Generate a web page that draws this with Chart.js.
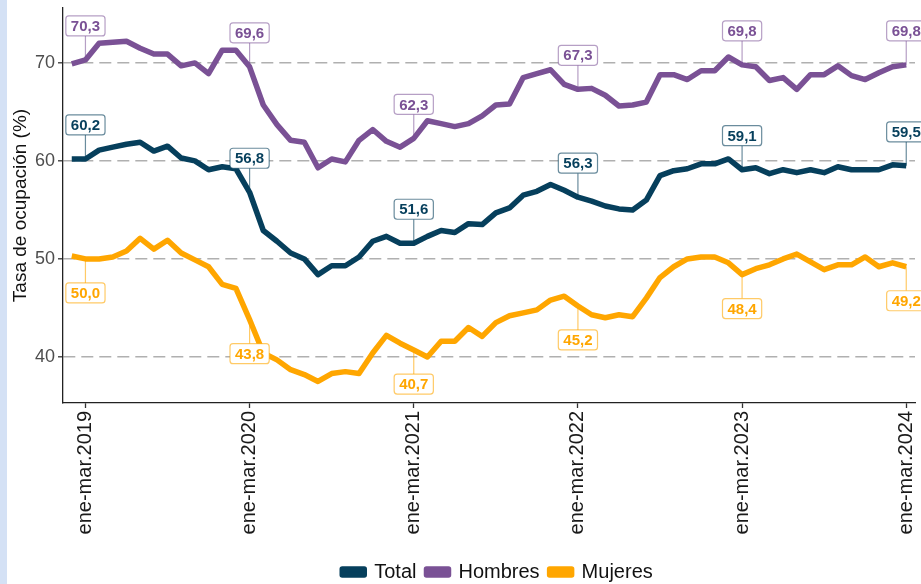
<!DOCTYPE html>
<html lang="es">
<head>
<meta charset="UTF-8">
<title>Tasa de ocupación</title>
<script src="https://cdn.jsdelivr.net/npm/chart.js"></script>
<style>
  html, body { margin: 0; padding: 0; }
  body {
    width: 921px; height: 584px; overflow: hidden;
    background: linear-gradient(to right, #d4e1f5 0, #d4e1f5 7px, #ffffff 7px);
    font-family: "Liberation Sans", Arial, sans-serif;
  }
  #wrap { position: relative; width: 921px; height: 584px; }
</style>
</head>
<body>
<div id="wrap"><canvas id="chart"></canvas></div>
<script>
  // one point per rolling quarter, index 1 = ene-mar.2019
  const tickPos = [1, 13, 25, 37, 49, 61];
  const tickLabels = ['ene-mar.2019', 'ene-mar.2020', 'ene-mar.2021', 'ene-mar.2022', 'ene-mar.2023', 'ene-mar.2024'];

  const total = [
    60.2, 60.2, 61.1, 61.4, 61.7, 61.9, 61.0, 61.5, 60.3, 60.0, 59.1, 59.4, 59.2,
    56.8, 52.9, 51.8, 50.6, 50.0, 48.4, 49.3, 49.3, 50.2, 51.8, 52.3, 51.6,
    51.6, 52.3, 52.9, 52.7, 53.6, 53.5, 54.7, 55.2, 56.5, 56.9, 57.6, 57.0,
    56.3, 55.9, 55.4, 55.1, 55.0, 56.0, 58.5, 59.0, 59.2, 59.7, 59.7, 60.2,
    59.1, 59.3, 58.7, 59.1, 58.8, 59.1, 58.8, 59.4, 59.1, 59.1, 59.1, 59.6,
    59.5
  ];
  const hombres = [
    69.9, 70.3, 72.0, 72.1, 72.2, 71.5, 70.9, 70.9, 69.7, 70.0, 68.9, 71.3, 71.3,
    69.6, 65.7, 63.7, 62.1, 61.9, 59.3, 60.2, 59.9, 62.1, 63.2, 62.0, 61.4,
    62.3, 64.1, 63.8, 63.5, 63.8, 64.6, 65.7, 65.8, 68.5, 68.9, 69.3, 67.8,
    67.3, 67.4, 66.7, 65.6, 65.7, 66.0, 68.8, 68.8, 68.3, 69.2, 69.2, 70.6,
    69.8, 69.6, 68.2, 68.5, 67.3, 68.8, 68.8, 69.7, 68.7, 68.3, 69.0, 69.6,
    69.8
  ];
  const mujeres = [
    50.3, 50.0, 50.0, 50.2, 50.8, 52.1, 51.0, 51.9, 50.6, 49.9, 49.2, 47.4, 47.0,
    43.8, 40.4, 39.7, 38.7, 38.2, 37.5, 38.3, 38.5, 38.3, 40.4, 42.2, 41.4,
    40.7, 40.0, 41.6, 41.6, 43.0, 42.1, 43.5, 44.2, 44.5, 44.8, 45.8, 46.2,
    45.2, 44.3, 44.0, 44.3, 44.1, 46.0, 48.1, 49.2, 50.0, 50.2, 50.2, 49.6,
    48.4, 49.0, 49.4, 50.0, 50.5, 49.7, 48.9, 49.4, 49.4, 50.2, 49.2, 49.6,
    49.2
  ];

  const toPoints = arr => arr.map((v, i) => ({ x: i, y: v }));
  const FONT = '"Liberation Sans", Arial, sans-serif';

  // boxed value labels at each ene-mar point, with a small stem
  const valueLabels = {
    id: 'valueLabels',
    afterDatasetsDraw(chart) {
      const ctx = chart.ctx;
      ctx.save();
      ctx.font = 'bold 15px ' + FONT;
      ctx.textAlign = 'center';
      ctx.textBaseline = 'middle';
      chart.data.datasets.forEach((ds, d) => {
        const meta = chart.getDatasetMeta(d);
        tickPos.forEach(i => {
          const pt = meta.data[i];
          const txt = ds.data[i].y.toFixed(1).replace('.', ',');
          const w = ctx.measureText(txt).width + 10, h = 20;
          const cy = pt.y + ds.labelDir * 34;
          const edge = cy - ds.labelDir * h / 2;
          ctx.strokeStyle = ds.softColor;
          ctx.lineWidth = 1.2;
          ctx.beginPath();
          ctx.moveTo(pt.x, pt.y);
          ctx.lineTo(pt.x, edge);
          ctx.stroke();
          ctx.fillStyle = '#ffffff';
          ctx.beginPath();
          ctx.roundRect(pt.x - w / 2, cy - h / 2, w, h, 3);
          ctx.fill();
          ctx.stroke();
          ctx.fillStyle = ds.borderColor;
          ctx.fillText(txt, pt.x, cy + 1);
        });
      });
      ctx.restore();
    }
  };

  // the legend in the original sits a bit lower and right of centre
  const nudgeLegend = {
    id: 'nudgeLegend',
    afterLayout(chart) {
      const lg = chart.legend;
      lg.left += 40; lg.right += 40;
      lg.top += 8; lg.bottom += 8;
    }
  };

  new Chart(document.getElementById('chart'), {
    type: 'line',
    data: {
      datasets: [
        { label: 'Total', data: toPoints(total), borderColor: '#063f5c', backgroundColor: '#063f5c',
          softColor: 'rgba(6,63,92,0.6)', labelDir: -1 },
        { label: 'Hombres', data: toPoints(hombres), borderColor: '#7a5195', backgroundColor: '#7a5195',
          softColor: 'rgba(122,81,149,0.55)', labelDir: -1 },
        { label: 'Mujeres', data: toPoints(mujeres), borderColor: '#ffa600', backgroundColor: '#ffa600',
          softColor: 'rgba(255,166,0,0.6)', labelDir: 1 }
      ]
    },
    options: {
      responsive: true,
      maintainAspectRatio: false,
      animation: false,
      events: [],
      layout: { padding: { top: 8, right: 6, left: 0, bottom: 0 } },
      elements: {
        line: { borderWidth: 5.5, tension: 0, borderJoinStyle: 'round' },
        point: { radius: 0 }
      },
      scales: {
        x: {
          type: 'linear',
          min: -0.64,
          max: 61.64,
          afterBuildTicks: s => { s.ticks = tickPos.map(v => ({ value: v })); },
          afterFit: s => { s.height = 141; s.paddingLeft = 0; s.paddingRight = 0; },
          ticks: {
            autoSkip: false,
            minRotation: 90,
            maxRotation: 90,
            padding: 3,
            color: '#1a1a1a',
            font: { size: 20, family: FONT },
            callback: v => tickLabels[tickPos.indexOf(v)]
          },
          grid: { drawOnChartArea: false, drawTicks: true, tickLength: 5, tickColor: '#333333', tickWidth: 1.3 },
          border: { display: true, color: '#222222', width: 1.3 }
        },
        y: {
          min: 35.3,
          max: 75.6,
          afterBuildTicks: s => { s.ticks = [40, 50, 60, 70].map(v => ({ value: v })); },
          afterFit: s => { s.width = 63; s.paddingTop = 0; s.paddingBottom = 0; },
          title: {
            display: true,
            text: 'Tasa de ocupación (%)',
            color: '#111111',
            font: { size: 19, family: FONT },
            padding: { top: 9, bottom: 0 }
          },
          ticks: {
            padding: 3,
            color: '#4d4d4d',
            font: { size: 18, family: FONT }
          },
          grid: { color: '#b0b0b0', lineWidth: 1.6, tickLength: 5, tickColor: '#333333', tickWidth: 1.3 },
          border: { display: true, color: '#222222', width: 1.3, dash: [12, 6] }
        }
      },
      plugins: {
        tooltip: { enabled: false },
        legend: {
          position: 'bottom',
          labels: {
            boxWidth: 22,
            boxHeight: 6,
            padding: 10,
            color: '#111111',
            font: { size: 20, family: FONT }
          }
        }
      }
    },
    plugins: [valueLabels, nudgeLegend]
  });
</script>
</body>
</html>
